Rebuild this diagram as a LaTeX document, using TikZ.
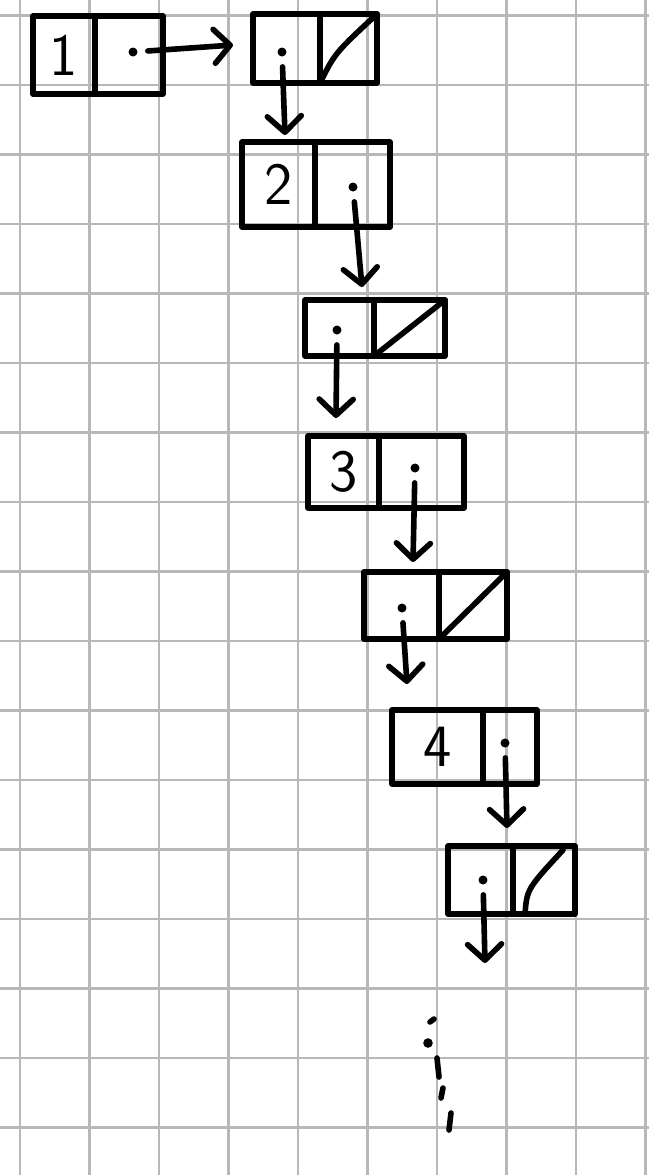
\documentclass[tikz,border=0pt]{standalone}
\usetikzlibrary{arrows.meta,calc}
\begin{document}
\begin{tikzpicture}[x=0.5pt,y=-0.5pt,
  gridline/.style={line width=1.4pt,draw=black!28},
  cell/.style={draw=black,line width=2.8pt,line join=round,inner sep=0pt,outer sep=0pt,
    font=\sffamily\fontsize{30}{30}\selectfont},
  ink/.style={draw=black,line width=2.8pt,line cap=round,line join=round},
  ptr/.style={ink,shorten <=5pt,-{Straight Barb[length=8pt,width=17pt,round]}},
  dotmark/.style={circle,fill=black,inner sep=0pt,minimum size=4.5pt}
]
\useasboundingbox (0,0) rectangle (649,1175);
\fill[white] (0,0) rectangle (649,1175);
% grid
\foreach \k in {0,...,9} \draw[gridline] ({20+69.5*\k},0) -- ({20+69.5*\k},1175);
\foreach \k in {0,...,16} \draw[gridline] (0,{15.5+69.5*\k}) -- (649,{15.5+69.5*\k});

% box 1
\node[cell,minimum width=31pt,minimum height=39pt] (b1l) at (64,55) {1};
\node[cell,minimum width=34pt,minimum height=39pt] (b1r) at (129,55) {};
\node[dotmark] (d1) at (133,52) {};
% box 2
\node[cell,minimum width=33.5pt,minimum height=34.5pt] (b2l) at (286.5,48.5) {};
\node[cell,minimum width=28.5pt,minimum height=34.5pt] (b2r) at (348.5,48.5) {};
\node[dotmark] (d2) at (282,52) {};
% box 3
\node[cell,minimum width=36.5pt,minimum height=42.5pt] (b3l) at (278.5,184.5) {2};
\node[cell,minimum width=37.5pt,minimum height=42.5pt] (b3r) at (352.5,184.5) {};
\node[dotmark] (d3) at (353,187) {};
% box 4
\node[cell,minimum width=34.5pt,minimum height=28pt] (b4l) at (339.5,328) {};
\node[cell,minimum width=35.5pt,minimum height=28pt] (b4r) at (409.5,328) {};
\node[dotmark] (d4) at (337,330) {};
% box 5
\node[cell,minimum width=35.5pt,minimum height=36pt] (b5l) at (343.5,472) {3};
\node[cell,minimum width=42.5pt,minimum height=36pt] (b5r) at (421.5,472) {};
\node[dotmark] (d5) at (415,468) {};
% box 6
\node[cell,minimum width=37.5pt,minimum height=33.5pt] (b6l) at (401.5,605.5) {};
\node[cell,minimum width=34pt,minimum height=33.5pt] (b6r) at (473,605.5) {};
\node[dotmark] (d6) at (402,608) {};
% box 7
\node[cell,minimum width=45.5pt,minimum height=37pt] (b7l) at (437.5,747) {4};
\node[cell,minimum width=27pt,minimum height=37pt] (b7r) at (510,747) {};
\node[dotmark] (d7) at (505,743) {};
% box 8
\node[cell,minimum width=32.5pt,minimum height=34pt] (b8l) at (480.5,880) {};
\node[cell,minimum width=31pt,minimum height=34pt] (b8r) at (544,880) {};
\node[dotmark] (d8) at (483,880) {};

% null slashes
\draw[ink] (b2r.south west) .. controls ($(b2r.south west)+(15,-30)$) .. (b2r.north east);
\draw[ink] (b4r.south west) -- (b4r.north east);
\draw[ink] (b6r.south west) -- (b6r.north east);
\draw[ink] ($(b8r.south west)+(12,0)$) .. controls ($(b8r.south west)+(14,-25)$) .. ($(b8r.north east)+(-12,4)$);

% arrow tips
\coordinate (t1) at (233,45);
\coordinate (t2) at (285,135);
\coordinate (t3) at (362,287);
\coordinate (t4) at (336,418);
\coordinate (t5) at (413,562);
\coordinate (t6) at (407,684);
\coordinate (t7) at (507,828);
\coordinate (t8) at (485,963);
\draw[ptr] (d1) -- (t1);
\draw[ptr] (d2) -- (t2);
\draw[ptr] (d3) -- (t3);
\draw[ptr] (d4) -- (t4);
\draw[ptr] (d5) -- (t5);
\draw[ptr] (d6) -- (t6);
\draw[ptr] (d7) -- (t7);
\draw[ptr] (d8) -- (t8);

% continuation marks
\draw[ink] (430,1022) -- (434,1019);
\fill (428,1043) circle (2.4pt);
\draw[ink] (437,1058) -- (439,1077);
\draw[ink] (443,1088) -- (441,1098);
\draw[ink] (451,1113) -- (449,1130);
\end{tikzpicture}
\end{document}
